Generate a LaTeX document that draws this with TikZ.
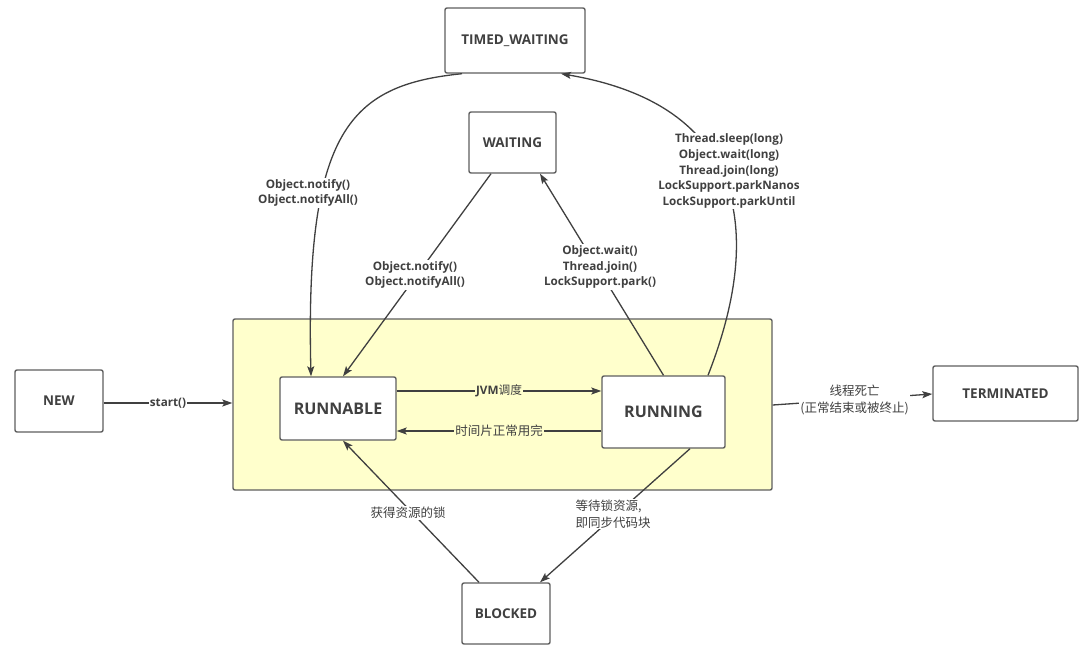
\documentclass[tikz,border=0pt]{standalone}
\usepackage{fontspec}
\setmainfont{Open Sans}
\newfontfamily\cjk{Noto Sans CJK SC}
\usepackage{tikz}
\usetikzlibrary{positioning, arrows.meta, shapes}
\definecolor{grisOsc}{RGB}{64, 64, 64}
\definecolor{borde}{RGB}{95, 95, 95}
\definecolor{amarillo}{RGB}{255, 255, 204}
\tikzset{
    est/.style={draw=borde, fill=white, rounded corners=2pt, line width=1.4pt, inner sep=0pt, text=grisOsc, font=\bfseries\fontsize{13.5}{15}\selectfont},
    estBig/.style={est, font=\bfseries\fontsize{16}{18}\selectfont},
    caja/.style={draw=borde, fill=amarillo, rounded corners=2pt, line width=1.4pt, inner sep=0pt},
    conn/.style={draw=grisOsc, line width=1.3pt, -{Stealth[length=10pt, width=7pt, inset=2pt]}},
    etq/.style={fill=white, inner sep=1pt, text=grisOsc, align=center, font=\bfseries\fontsize{11.7}{15.8}\selectfont},
    etqCn/.style={fill=white, inner sep=1pt, text=grisOsc, align=center, font=\cjk\fontsize{12.5}{17}\selectfont},
}
\begin{document}
\begin{tikzpicture}[x=1pt, y=-1pt]
        \fill[white] (0,0) rectangle (1092,656);
        \useasboundingbox (0,0) rectangle (1092,656);

        \node[caja, minimum width=539, minimum height=171] (area) at (502.5,404.5) {};
        \node[est, minimum width=140, minimum height=65] (timedW) at (515,40.5) {TIMED\_WAITING};
        \node[est, minimum width=87, minimum height=61] (waiting) at (512.5,142.5) {WAITING};
        \node[est, minimum width=88, minimum height=62] (new) at (59,401) {NEW};
        \node[estBig, minimum width=116, minimum height=63] (runnable) at (338,408.5) {RUNNABLE};
        \node[estBig, minimum width=123, minimum height=72] (running) at (663.5,412) {RUNNING};
        \node[est, minimum width=145, minimum height=55] (terminated) at (1005.5,393.5) {TERMINATED};
        \node[est, minimum width=88, minimum height=61] (blocked) at (506,613.5) {BLOCKED};

        \draw[conn] ([yshift=-2pt]new.east) -- node[etq] {start()} ([yshift=1.5pt]area.west);
        \draw[conn] ([yshift=17.5pt]runnable.east) -- node[etq, fill=amarillo] {JVM{\cjk\mdseries 调度}} ([yshift=21pt]running.west);
        \draw[conn] ([yshift=-19pt]running.west) -- node[etqCn, fill=amarillo] {时间片正常用完} ([yshift=-22.5pt]runnable.east);
        \draw[conn] ([yshift=-0.5pt]area.east) -- node[etqCn, xshift=2pt] {线程死亡\\(正常结束或被终止)} ([yshift=-0.5pt]terminated.west);

        \draw[conn] ([xshift=-53pt]timedW.south) .. controls (350,85) and (305,130) .. ([xshift=-27pt]runnable.north)
            node[etq] at (308,193) {Object.notify()\\Object.notifyAll()};
        \draw[conn] ([xshift=-21.5pt]waiting.south) -- ([xshift=5pt]runnable.north)
            node[etq] at (415,275) {Object.notify()\\Object.notifyAll()};
        \draw[conn] (running.north) -- ([xshift=27.5pt]waiting.south)
            node[etq] at (600,267) {Object.wait()\\Thread.join()\\LockSupport.park()};
        \draw[conn] ([xshift=44.5pt]running.north) .. controls (765,230) and (745,105) .. ([xshift=46pt]timedW.south)
            node[etq] at (729,171) {Thread.sleep(long)\\Object.wait(long)\\Thread.join(long)\\LockSupport.parkNanos\\LockSupport.parkUntil};
        \draw[conn] ([xshift=26.5pt]running.south) -- ([xshift=34pt]blocked.north)
            node[etqCn, align=left] at (613,514) {等待锁资源,\\即同步代码块};
        \draw[conn] ([xshift=-27pt]blocked.north) -- ([xshift=5pt]runnable.south)
            node[etqCn] at (408,513) {获得资源的锁};
    \end{tikzpicture}
\end{document}
